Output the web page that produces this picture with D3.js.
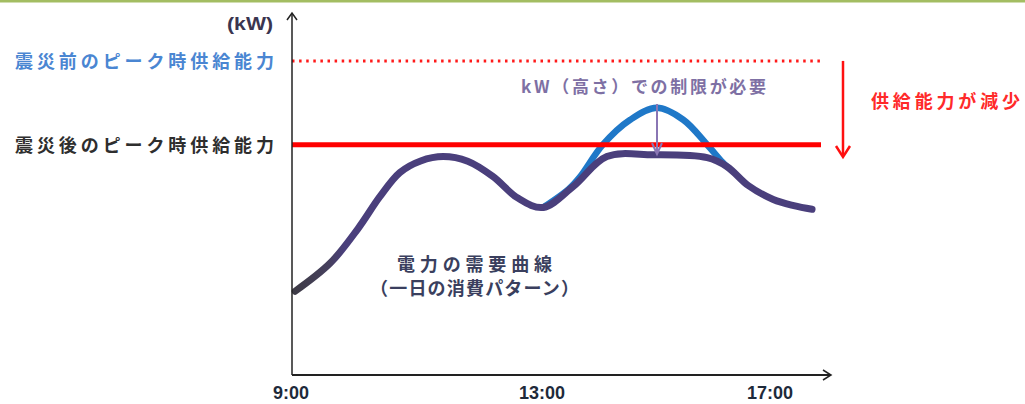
<!DOCTYPE html>
<html><head><meta charset="utf-8">
<script src="https://cdn.jsdelivr.net/npm/d3@7"></script>
<style>
html,body{margin:0;padding:0;background:#fff;}
svg{display:block;}
.jp{font-family:"Noto Sans CJK JP","Noto Sans",sans-serif;font-weight:700;}
</style></head>
<body>
<svg id="chart" width="1025" height="404"></svg>
<script>
// ---- data ----
const xTickHours = [9, 13, 17];
const xTickLabels = ["9:00", "13:00", "17:00"];
const demandHours = [9.05, 9.61, 10.05, 10.40, 10.72, 11.05, 11.41, 11.80, 12.20, 12.60, 13.0, 13.53, 14.12, 14.93, 15.88, 16.23, 16.60, 17.04, 17.40, 17.72];
const demandValues = [23.2, 31.0, 40.5, 49.4, 56.1, 59.3, 60.5, 59.2, 55.0, 49.0, 46.4, 52.2, 60.5, 61.0, 60.2, 57.7, 52.5, 48.6, 46.9, 45.9];
const preHours = [13.0, 13.45, 13.65, 14.05, 14.53, 15.0, 15.46, 15.88, 16.14, 16.23];
const preValues = [46.4, 51.5, 54.9, 63.8, 70.7, 74.0, 70.7, 63.8, 59.1, 57.7];
const capacityBefore = 87.0;   // dotted line
const capacityAfter = 63.8;    // solid line
const labelBefore = "震災前のピーク時供給能力";
const labelAfter = "震災後のピーク時供給能力";
const unitLabel = "(kW)";
const reduceLabel = "供給能力が減少";
const limitLabel = "kW（高さ）での制限が必要";
const curveLabel1 = "電力の需要曲線";
const curveLabel2 = "（一日の消費パターン）";

// ---- scales ----
const x = d3.scaleLinear().domain([9, 13, 17]).range([292, 543, 771]);
const y = d3.scaleLinear().domain([0, 100]).range([375, 14]);
const xEnd = 831, lineEnd = 821;

const svg = d3.select("#chart");
const defs = svg.append("defs");

// top green border
svg.append("rect").attr("x", 0).attr("y", 0).attr("width", 1025).attr("height", 2.5).attr("fill", "#a3bd62");

// capacity lines
svg.append("line").attr("x1", x(9)).attr("x2", lineEnd)
  .attr("y1", y(capacityBefore)).attr("y2", y(capacityBefore))
  .attr("stroke", "#ff1a1a").attr("stroke-width", 3).attr("stroke-dasharray", "2.5,4.6");

// curves
const line = d3.line().x(d => x(d[0])).y(d => y(d[1])).curve(d3.curveCatmullRom.alpha(0.5));
svg.append("path").datum(preHours.map((h, i) => [h, preValues[i]]))
  .attr("d", line).attr("fill", "none").attr("stroke", "#1f78c8").attr("stroke-width", 6.5).attr("stroke-linecap", "round");

const grad = defs.append("linearGradient").attr("id", "dg").attr("gradientUnits", "userSpaceOnUse")
  .attr("x1", x(9)).attr("x2", x(17.8)).attr("y1", 0).attr("y2", 0);
grad.append("stop").attr("offset", "0").attr("stop-color", "#3d3b45");
grad.append("stop").attr("offset", "0.07").attr("stop-color", "#46405e");
grad.append("stop").attr("offset", "0.1").attr("stop-color", "#4a3f7c");
grad.append("stop").attr("offset", "1").attr("stop-color", "#4a3f7c");

svg.append("path").datum(demandHours.map((h, i) => [h, demandValues[i]]))
  .attr("d", line).attr("fill", "none").attr("stroke", "url(#dg)").attr("stroke-width", 7).attr("stroke-linecap", "round");

svg.append("line").attr("x1", x(9)).attr("x2", lineEnd)
  .attr("y1", y(capacityAfter)).attr("y2", y(capacityAfter))
  .attr("stroke", "#ff0000").attr("stroke-width", 5);

// axes
const axisColor = "#222";
svg.append("line").attr("x1", x(9)).attr("x2", x(9)).attr("y1", y(0)).attr("y2", 13)
  .attr("stroke", axisColor).attr("stroke-width", 1.5);
svg.append("path").attr("d", `M${x(9) - 5},${20} L${x(9)},${13} L${x(9) + 5},${20}`)
  .attr("fill", "none").attr("stroke", axisColor).attr("stroke-width", 1.5);
svg.append("line").attr("x1", x(9)).attr("x2", xEnd).attr("y1", y(0)).attr("y2", y(0))
  .attr("stroke", axisColor).attr("stroke-width", 2);
svg.append("path").attr("d", `M${xEnd - 8},${y(0) - 5} L${xEnd},${y(0)} L${xEnd - 8},${y(0) + 5}`)
  .attr("fill", "none").attr("stroke", axisColor).attr("stroke-width", 1.5);

svg.selectAll("text.tick").data(xTickHours).enter().append("text")
  .attr("class", "tick").attr("x", d => x(d) - 1).attr("y", 399).attr("text-anchor", "middle")
  .attr("font-family", "'Liberation Sans', Arial, sans-serif").attr("font-weight", 700)
  .attr("font-size", 18).attr("fill", "#1e2a3a").text((d, i) => xTickLabels[i]);

// left labels
svg.append("text").attr("x", 227).attr("y", 30)
  .attr("font-family", "'Liberation Sans', Arial, sans-serif").attr("font-weight", 700)
  .attr("font-size", 18).attr("textLength", 46).attr("lengthAdjust", "spacingAndGlyphs")
  .attr("fill", "#3a3550").text(unitLabel);
svg.append("text").attr("class", "jp").attr("x", 15).attr("y", y(capacityBefore) + 7)
  .attr("font-size", 18).attr("textLength", 259).attr("lengthAdjust", "spacing")
  .attr("fill", "#4a86d2").text(labelBefore);
svg.append("text").attr("class", "jp").attr("x", 15).attr("y", y(capacityAfter) + 7)
  .attr("font-size", 18).attr("textLength", 259).attr("lengthAdjust", "spacing")
  .attr("fill", "#2e2e2e").text(labelAfter);

// reduction arrow
const ax = 843;
svg.append("line").attr("x1", ax).attr("x2", ax).attr("y1", y(capacityBefore)).attr("y2", 156)
  .attr("stroke", "#ff1010").attr("stroke-width", 2.5);
svg.append("path").attr("d", `M${ax - 7},${146} L${ax},${157} L${ax + 7},${146}`)
  .attr("fill", "none").attr("stroke", "#ff1010").attr("stroke-width", 2.5);
svg.append("text").attr("class", "jp").attr("x", 871).attr("y", 108)
  .attr("font-size", 18).attr("textLength", 149).attr("lengthAdjust", "spacing")
  .attr("fill", "#ff2a2a").text(reduceLabel);

// limitation label + arrow
svg.append("text").attr("class", "jp").attr("x", 521).attr("y", 93)
  .attr("font-size", 17).attr("textLength", 245).attr("lengthAdjust", "spacing")
  .attr("fill", "#7e70a4").text(limitLabel);
const px = x(15.0);
svg.append("line").attr("x1", px).attr("x2", px).attr("y1", 104).attr("y2", 154)
  .attr("stroke", "#8a76b4").attr("stroke-width", 2);
svg.append("path").attr("d", `M${px - 5},${143} L${px},${154} L${px + 5},${143}`)
  .attr("fill", "none").attr("stroke", "#8a76b4").attr("stroke-width", 2);

// curve label
svg.append("text").attr("class", "jp").attr("x", 397).attr("y", 271)
  .attr("font-size", 18).attr("textLength", 155).attr("lengthAdjust", "spacing")
  .attr("fill", "#3a3f5e").text(curveLabel1);
svg.append("text").attr("class", "jp").attr("x", 370).attr("y", 295)
  .attr("font-size", 18).attr("textLength", 209).attr("lengthAdjust", "spacing")
  .attr("fill", "#3a3f5e").text(curveLabel2);
</script>
</body></html>
